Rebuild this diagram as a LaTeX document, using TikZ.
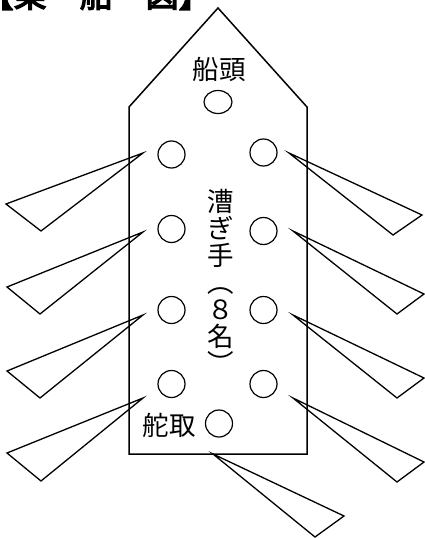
\documentclass[tikz,border=0pt]{standalone}
\usepackage{fontspec}
\usepackage{tikz}
\usetikzlibrary{shapes.geometric}
\newfontfamily\jpfont[AutoFakeBold=4]{Noto Sans CJK JP}
\tikzset{
	hull/.style={line width=1.5pt, line join=miter},
	seat/.style={draw, circle, line width=1.2pt, minimum size=27pt, inner sep=0pt},
	oar/.style={line width=1.3pt, line join=miter},
	label/.style={font=\jpfont\fontsize{26.5}{27}\selectfont, inner sep=0pt}
}

\begin{document}
\begin{tikzpicture}[x=1pt, y=-1pt]
		%%%%% START %%%%%
		\clip (0, 0) rectangle (425, 538);
		
		% title, cut off at the top
		\node[anchor=base west, inner sep=0pt, font=\jpfont\fontsize{33}{33}\selectfont\bfseries] (title) at (-19.5, 7) {【乗　船　図】};
		
		% hull
		\draw[hull] (218, 8) -- (307, 107) -- (307, 454) -- (129, 454) -- (129, 107) -- cycle;
		
		% oars, left side
		\draw[oar] (143, 153) -- (6, 204) -- (41, 231) -- cycle;
		\draw[oar] (143, 232) -- (7, 287) -- (40, 314) -- cycle;
		\draw[oar] (143, 315) -- (7, 371) -- (40, 398) -- cycle;
		\draw[oar] (143, 398) -- (7, 453) -- (41, 481) -- cycle;
		
		% oars, right side
		\draw[oar] (289, 153) -- (422, 215) -- (393, 235) -- cycle;
		\draw[oar] (293, 231) -- (424, 294) -- (397, 314) -- cycle;
		\draw[oar] (293, 315) -- (424, 378) -- (397, 398) -- cycle;
		\draw[oar] (293, 398) -- (424, 462) -- (397, 482) -- cycle;
		
		% rudder
		\draw[oar] (213, 454) -- (344, 516) -- (315, 537) -- cycle;
		
		% seats
		\node[draw, ellipse, line width=1.2pt, minimum width=28pt, minimum height=23pt, inner sep=0pt] (bow) at (218, 102) {};
		\node[seat] (l1) at (171.5, 154.5) {};
		\node[seat] (r1) at (263.5, 152.5) {};
		\node[seat] (l2) at (171.5, 229) {};
		\node[seat] (r2) at (263.5, 231) {};
		\node[seat] (l3) at (171.5, 310) {};
		\node[seat] (r3) at (263.5, 310) {};
		\node[seat] (l4) at (171.5, 384) {};
		\node[seat] (r4) at (263.5, 384) {};
		\node[seat] (helm) at (219, 423.5) {};
		
		% labels
		\node[label] (bowname) at (219, 69) {船頭};
		\node[label] (helmname) at (169, 425) {舵取};
		\node[label, align=center] (rowers) at (221, 281) {漕\\ぎ\\手\\︵\\８\\名\\︶};
		
		%%%%% END %%%%%
\end{tikzpicture}
\end{document}
